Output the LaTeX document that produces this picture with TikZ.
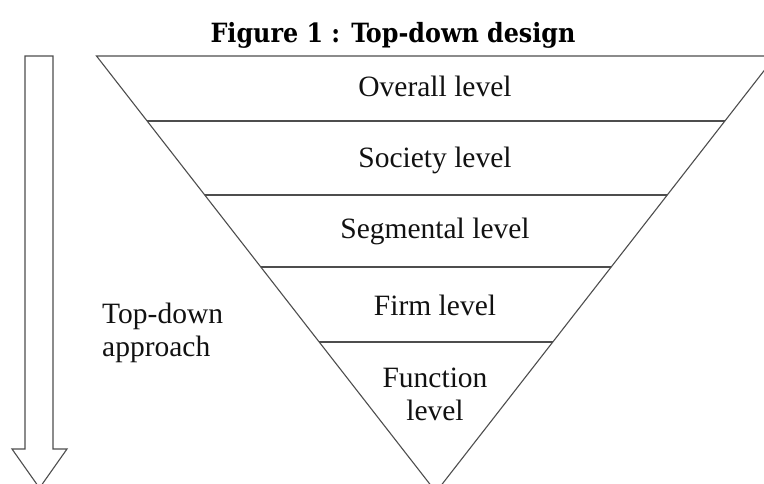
\documentclass[tikz,border=0pt]{standalone}
\usepackage{fontspec}
\setmainfont{Liberation Serif}
\newfontfamily\titlefont{DejaVu Serif Condensed}
\usetikzlibrary{positioning,calc}
\definecolor{tdLine}{HTML}{4D4D4D}
\definecolor{tdText}{HTML}{111111}
\tikzset{
  edge/.style={draw=tdLine, line width=1.1pt},
  level/.style={font=\fontsize{29.5}{33}\selectfont, text=tdText, align=center, inner sep=0pt, anchor=base},
  tdtitle/.style={font=\titlefont\bfseries\fontsize{26.5}{28}\selectfont, inner sep=0pt, anchor=base},
}

\begin{document}
\begin{tikzpicture}[x=1pt, y=-1pt]
\useasboundingbox (0,0) rectangle (764,484);
\clip (0,0) rectangle (764,484);

\node[tdtitle] (title) at (393,43) {Figure 1 : Top-down design};

% the funnel
\coordinate (TL) at (96.5,56);
\coordinate (TR) at (775.5,56);
\coordinate (B) at (436,492);
\draw[edge] (TL) -- (TR) -- (B) -- cycle;

% rules between the levels
\foreach \y in {121,195,267,342} {
  \draw[edge] ($(TL)!{(\y-56)/436}!(B)$) -- ($(TR)!{(\y-56)/436}!(B)$);
}

% base anchor sits on the last line
\node[level] (L1) at (435,97) {Overall level};
\node[level] (L2) at (435,168) {Society level};
\node[level] (L3) at (435,239) {Segmental level};
\node[level] (L4) at (435,315) {Firm level};
\node[level] (L5) at (435,420) {Function\\level};

% hollow arrow on the left
\draw[edge, fill=white] (25,56) -- (53,56) -- (53,449) -- (67,449)
  -- (39.5,488) -- (12,449) -- (25,449) -- cycle;

\node[level, align=left, anchor=base west] (appr) at (102,356) {Top-down\\approach};

\end{tikzpicture}
\end{document}
